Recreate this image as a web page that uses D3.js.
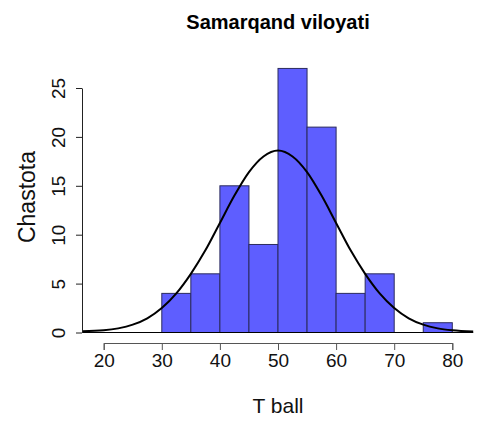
<!DOCTYPE html>
<html>
<head>
<meta charset="utf-8">
<title>Samarqand viloyati</title>
<script src="https://d3js.org/d3.v7.min.js"></script>
<style>
  body { margin: 0; background: #fff; }
  svg { display: block; font-family: Arial, "Liberation Sans", sans-serif; }
</style>
</head>
<body>
<svg width="485" height="421"></svg>
<script>
// histogram bins (T ball) and counts
var binEdges = [30, 35, 40, 45, 50, 55, 60, 65, 70, 75, 80];
var counts = [4, 6, 15, 9, 27, 21, 4, 6, 0, 1];

// fitted curve
var curveX = [16.3, 20, 22.5, 25, 27.5, 30, 32.5, 35, 37.5, 40, 42.5, 45, 47.5, 50,
              52.5, 55, 57.5, 60, 62.5, 65, 67.5, 70, 72.5, 75, 77.5, 80, 83.6];
var curveY = [0.12, 0.22, 0.42, 0.8, 1.45, 2.5, 4.0, 6.0, 8.4, 11.2, 14.0, 16.4, 18.0, 18.6,
              18.0, 16.4, 14.0, 11.2, 8.4, 6.0, 4.0, 2.5, 1.45, 0.8, 0.42, 0.22, 0.1];

var xTicks = [20, 30, 40, 50, 60, 70, 80];
var yTicks = [0, 5, 10, 15, 20, 25];

var svg = d3.select("svg");

var x = d3.scaleLinear().domain([20, 80]).range([103.7, 452.3]);
var y = d3.scaleLinear().domain([0, 25]).range([332.5, 88]);

// title
svg.append("text")
    .attr("x", 278).attr("y", 29)
    .attr("text-anchor", "middle")
    .style("font-weight", "bold")
    .style("font-size", "20px")
    .text("Samarqand viloyati");

// bars
var bins = counts.map(function(c, i) { return { x0: binEdges[i], x1: binEdges[i + 1], n: c }; });
svg.selectAll("rect.bar")
    .data(bins.filter(function(d) { return d.n > 0; }))
    .enter().append("rect")
    .attr("class", "bar")
    .attr("x", function(d) { return x(d.x0); })
    .attr("width", function(d) { return x(d.x1) - x(d.x0); })
    .attr("y", function(d) { return y(d.n); })
    .attr("height", function(d) { return y(0) - y(d.n); })
    .attr("fill", "#5e5eff")
    .attr("stroke", "#2b2b5e")
    .attr("stroke-width", 1);

// zero line
svg.append("line")
    .attr("x1", x(16.3)).attr("x2", x(83.6))
    .attr("y1", y(0)).attr("y2", y(0))
    .attr("stroke", "#000").attr("stroke-width", 1.2);

// curve
var pts = curveX.map(function(v, i) { return [v, curveY[i]]; });
svg.append("path")
    .datum(pts)
    .attr("fill", "none")
    .attr("stroke", "#000")
    .attr("stroke-width", 2)
    .attr("d", d3.line()
        .x(function(d) { return x(d[0]); })
        .y(function(d) { return y(d[1]); })
        .curve(d3.curveMonotoneX));

// x axis
var xAxis = svg.append("g")
    .attr("transform", "translate(0,343)")
    .call(d3.axisBottom(x).tickValues(xTicks).tickSize(7).tickPadding(4));
xAxis.select(".domain").attr("stroke", "#555");
xAxis.selectAll(".tick line").attr("stroke", "#555");
xAxis.selectAll(".tick text")
    .style("font-size", "19px")
    .attr("fill", "#111");

// y axis
var yAxis = svg.append("g")
    .attr("transform", "translate(82,0)")
    .call(d3.axisLeft(y).tickValues(yTicks).tickSize(6).tickSizeOuter(0));
yAxis.select(".domain").attr("stroke", "#222");
yAxis.selectAll(".tick line").attr("stroke", "#222");
yAxis.selectAll(".tick text")
    .style("font-size", "19px")
    .attr("fill", "#111")
    .attr("x", null).attr("dy", null)
    .attr("text-anchor", "middle")
    .attr("transform", "translate(-17,0) rotate(-90)");

// axis titles
svg.append("text")
    .attr("x", 278).attr("y", 413)
    .attr("text-anchor", "middle")
    .style("font-size", "21px")
    .attr("fill", "#111")
    .text("T ball");

svg.append("text")
    .attr("transform", "translate(35,197) rotate(-90)")
    .attr("text-anchor", "middle")
    .style("font-size", "23px")
    .attr("fill", "#111")
    .text("Chastota");
</script>
</body>
</html>
